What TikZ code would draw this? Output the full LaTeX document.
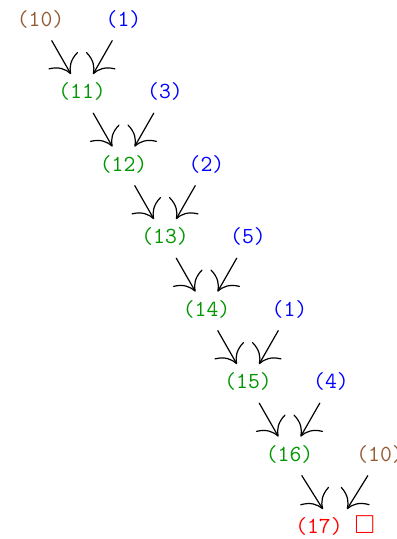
\documentclass[tikz,border=0pt]{standalone}
\usepackage{amssymb}
\usetikzlibrary{arrows.meta}
\definecolor{cbrown}{RGB}{150,90,50}
\definecolor{cgreen}{RGB}{0,150,0}
\begin{document}
\begin{tikzpicture}[x=0.5pt,y=-0.5pt,
  lbl/.style={font=\ttfamily\fontsize{11.5}{13}\selectfont, inner sep=0pt,
    text height=8pt, text depth=2.7pt, minimum height=19pt},
  hyp/.style={lbl,text=cbrown},
  given/.style={lbl,text=blue},
  derived/.style={lbl,text=cgreen},
  goal/.style={lbl,text=red},
  arr/.style={-{To[length=8pt,width=17pt]}, line width=0.6pt}]
\useasboundingbox (0,0) rectangle (396,539);
\clip (0,0) rectangle (396,539);
\def\cx#1{{40.5+41.5*#1}}
\def\ry#1{{21+72.5*#1}}
% row 0
\node[hyp]   (a0)  at (\cx{0},\ry{0}) {(10)};
\node[given] (b1)  at (\cx{2},\ry{0}) {(1)};
% row 1
\node[derived] (n11) at (\cx{1},\ry{1}) {(11)};
\node[given]   (b2)  at (\cx{3},\ry{1}) {(3)};
% row 2
\node[derived] (n12) at (\cx{2},\ry{2}) {(12)};
\node[given]   (b3)  at (\cx{4},\ry{2}) {(2)};
% row 3
\node[derived] (n13) at (\cx{3},\ry{3}) {(13)};
\node[given]   (b4)  at (\cx{5},\ry{3}) {(5)};
% row 4
\node[derived] (n14) at (\cx{4},\ry{4}) {(14)};
\node[given]   (b5)  at (\cx{6},\ry{4}) {(1)};
% row 5
\node[derived] (n15) at (\cx{5},\ry{5}) {(15)};
\node[given]   (b6)  at (\cx{7},\ry{5}) {(4)};
% row 6
\node[derived] (n16) at (\cx{6},\ry{6}) {(16)};
\node[hyp]     (b7)  at (380,\ry{6}) {(10)};
% row 7
\node[goal]    (n17) at (335,\ry{7}) {(17) {\normalfont\fontsize{13}{13}\selectfont$\square$}};
% arrows
\draw[arr] (a0) -- (n11);  \draw[arr] (b1) -- (n11);
\draw[arr] (n11) -- (n12); \draw[arr] (b2) -- (n12);
\draw[arr] (n12) -- (n13); \draw[arr] (b3) -- (n13);
\draw[arr] (n13) -- (n14); \draw[arr] (b4) -- (n14);
\draw[arr] (n14) -- (n15); \draw[arr] (b5) -- (n15);
\draw[arr] (n15) -- (n16); \draw[arr] (b6) -- (n16);
\draw[arr] (n16) -- (n17); \draw[arr] (b7) -- (n17);
\end{tikzpicture}
\end{document}
